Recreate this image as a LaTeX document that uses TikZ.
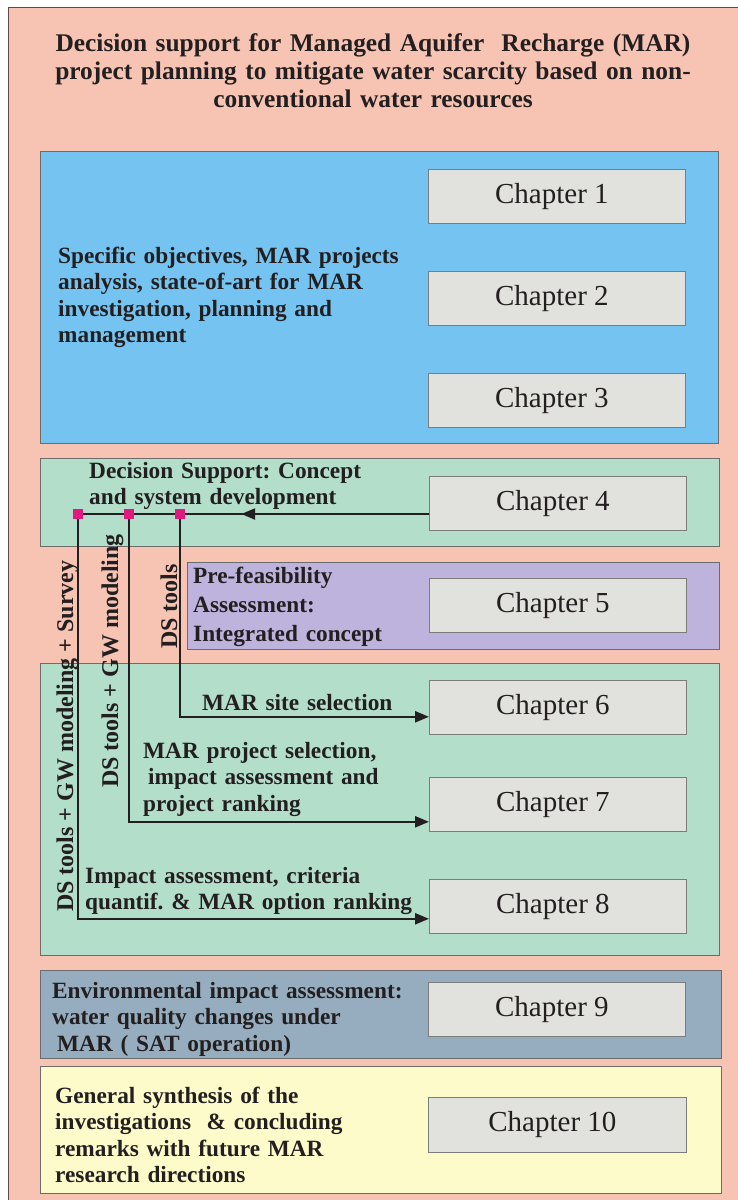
\documentclass[tikz,border=0pt]{standalone}
\usepackage{fontspec}
\setmainfont{Liberation Serif}
\frenchspacing
\usetikzlibrary{arrows.meta,calc,decorations.markings}
\definecolor{bgpink}{HTML}{F7C4B4}
\definecolor{bgline}{HTML}{5E4B48}
\definecolor{blueP}{HTML}{75C3F1}
\definecolor{greenP}{HTML}{B3DECA}
\definecolor{purpleP}{HTML}{BDB3DC}
\definecolor{envP}{HTML}{95ADBE}
\definecolor{yellowP}{HTML}{FEFBCB}
\definecolor{chapG}{HTML}{E1E1DD}
\definecolor{chapL}{HTML}{7C7C7A}
\definecolor{panelL}{HTML}{6C6C6C}
\definecolor{ink}{HTML}{231F20}
\definecolor{sqC}{HTML}{E0197F}
\tikzset{
  panel/.style={draw=panelL, line width=0.8pt, anchor=north west, inner sep=0pt},
  chap/.style={draw=chapL, line width=0.8pt, fill=chapG, anchor=north west, inner sep=0pt,
    minimum width=257pt, minimum height=54pt, text=ink, font=\fontsize{29}{30}\selectfont},
  lbl/.style={anchor=base west, inner sep=0pt, text=ink, align=left, text width=420pt,
    font=\bfseries\fontsize{23.3}{26.5}\selectfont},
  vlbl/.style={anchor=base west, inner sep=0pt, text=ink, rotate=90,
    font=\bfseries\fontsize{24}{26.5}\selectfont},
  conn/.style={draw=ink, line width=2.3pt},
  tipa/.style={-{Triangle[length=14pt,width=11pt]}},
  sq/.style={fill=sqC, minimum size=10pt, inner sep=0pt}
}
\newcommand{\chtext}[1]{#1\hspace*{10pt}}
\begin{document}
\frenchspacing
\begin{tikzpicture}[x=1pt,y=-1pt]
\useasboundingbox (0,0) rectangle (737,1200);
\fill[white] (0,0) rectangle (737,1200);
\path[fill=bgpink, draw=bgline, line width=1pt] (8,7) rectangle (745,1210);
% title
\node[anchor=base, inner sep=0pt, text=ink, align=center, text width=720pt,
  font=\bfseries\fontsize{25.4}{28}\selectfont] (title) at (373,51)
  {Decision support for Managed Aquifer\ \ Recharge (MAR)\\project planning to mitigate water scarcity based on non-\\conventional water resources};
% panels
\node[panel, fill=blueP, minimum width=678pt, minimum height=292pt] (blue) at (40,151) {};
\node[panel, fill=greenP, minimum width=679pt, minimum height=88pt] (green1) at (40,458) {};
\node[panel, fill=purpleP, minimum width=532pt, minimum height=87pt] (purple) at (187,562) {};
\node[panel, fill=greenP, minimum width=679pt, minimum height=292pt] (green2) at (40,663) {};
\node[panel, fill=envP, minimum width=681pt, minimum height=88pt] (env) at (40,970) {};
\node[panel, fill=yellowP, minimum width=681pt, minimum height=127pt] (yellow) at (40,1066) {};
% chapters
\node[chap] (ch1) at (428,169) {\chtext{Chapter 1}};
\node[chap] (ch2) at (428,271) {\chtext{Chapter 2}};
\node[chap] (ch3) at (428,373) {\chtext{Chapter 3}};
\node[chap] (ch4) at (429,476) {\chtext{Chapter 4}};
\node[chap] (ch5) at (429,578) {\chtext{Chapter 5}};
\node[chap] (ch6) at (429,680) {\chtext{Chapter 6}};
\node[chap] (ch7) at (429,777) {\chtext{Chapter 7}};
\node[chap] (ch8) at (429,879) {\chtext{Chapter 8}};
\node[chap] (ch9) at (428,982) {\chtext{Chapter 9}};
\node[chap, minimum width=258pt, minimum height=55pt] (ch10) at (428,1097) {\chtext{Chapter 10}};
% panel texts
\node[lbl] (tblue) at (58,263) {Specific objectives, MAR projects\\analysis, state-of-art for MAR\\investigation, planning and\\management};
\node[lbl] (tds) at (89,478) {Decision Support: Concept\\and system development};
\node[lbl, font=\bfseries\fontsize{23.3}{29}\selectfont] (tpre) at (193,583) {Pre-feasibility\\Assessment:\\Integrated concept};
\node[lbl] (tenv) at (52,998) {Environmental impact assessment:\\water quality changes under\\\hspace*{5pt}MAR ( SAT operation)};
\node[lbl] (tyel) at (55,1103) {General synthesis of the\\investigations\ \ \& concluding\\remarks with future MAR\\research directions};
% connector labels
\node[lbl] (tsite) at (202,710) {MAR site selection};
\node[lbl] (tproj) at (143,758) {MAR project selection,\\\hspace*{5pt}impact assessment and\\project ranking};
\node[lbl] (timp) at (85,883) {Impact assessment, criteria\\quantif.\ \& MAR option ranking};
\node[vlbl] (v1) at (73,912) {DS tools + GW modeling + Survey};
\node[vlbl] (v2) at (118,788) {DS tools + GW modeling};
\node[vlbl] (v3) at (177,649) {DS tools};
% junction positions
\coordinate (j1) at (78,514);
\coordinate (j2) at (129,514);
\coordinate (j3) at (180,514);
\coordinate (e6) at ($(ch6.south west)+(0,-18)$);
\coordinate (e7) at ($(ch7.south west)+(0,-10)$);
\coordinate (e8) at ($(ch8.south west)+(0,-15)$);
% connectors
\draw[conn, postaction=decorate, decoration={markings,
  mark=at position 0.535 with {\arrow{Triangle[length=14pt,width=11pt]}}}]
  (ch4.west |- j1) -- (j1);
\draw[conn, tipa] (j3) |- (e6);
\draw[conn, tipa] (j2) |- (e7);
\draw[conn, tipa] (j1) |- (e8);
\node[sq] (s1) at (j1) {};
\node[sq] (s2) at (j2) {};
\node[sq] (s3) at (j3) {};
\end{tikzpicture}
\end{document}
